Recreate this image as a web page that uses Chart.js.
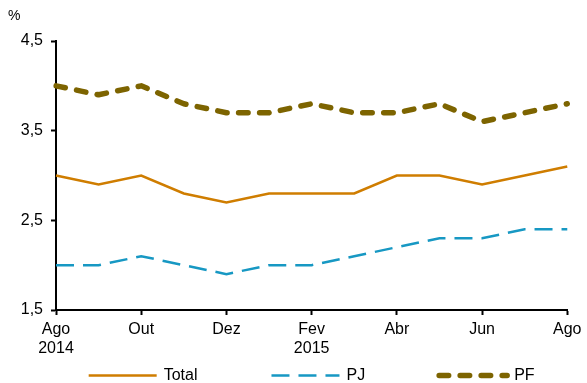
<!DOCTYPE html>
<html lang="pt-BR">
<head>
<meta charset="utf-8">
<title>Inadimplência</title>
<script src="https://cdn.jsdelivr.net/npm/chart.js@4/dist/chart.umd.min.js"></script>
<style>
  html, body { margin: 0; padding: 0; background: #fff; }
  #wrap { width: 587px; height: 383px; }
</style>
</head>
<body>
<div id="wrap"><canvas id="chart" width="587" height="383"></canvas></div>
<script>
// Months, Aug 2014 to Aug 2015
const months = ['ago/2014', 'set/2014', 'out/2014', 'nov/2014', 'dez/2014', 'jan/2015', 'fev/2015',
                'mar/2015', 'abr/2015', 'mai/2015', 'jun/2015', 'jul/2015', 'ago/2015'];

// Series, in %
const total = [3.0, 2.9, 3.0, 2.8, 2.7, 2.8, 2.8, 2.8, 3.0, 3.0, 2.9, 3.0, 3.1];
const pj    = [2.0, 2.0, 2.1, 2.0, 1.9, 2.0, 2.0, 2.1, 2.2, 2.3, 2.3, 2.4, 2.4];
const pf    = [4.0, 3.9, 4.0, 3.8, 3.7, 3.7, 3.8, 3.7, 3.7, 3.8, 3.6, 3.7, 3.8];

// Axis ticks
const xTickPositions = [0, 2, 4, 6, 8, 10, 12];
const xTickLabels = [['Ago', '2014'], 'Out', 'Dez', ['Fev', '2015'], 'Abr', 'Jun', 'Ago'];
const yTicks = [1.5, 2.5, 3.5, 4.5];

const FONT = "'Liberation Sans', Arial, Helvetica, sans-serif";

// Horizontal legend with line samples, centred under the plot area
const lineLegend = {
  id: 'lineLegend',
  afterDraw(chart, args, o) {
    const { ctx, chartArea: a } = chart;
    const sets = chart.data.datasets;
    ctx.save();
    ctx.font = o.fontSize + 'px ' + FONT;
    const widths = sets.map(ds => o.lineLength + o.textGap + ctx.measureText(ds.label).width);
    const rowWidth = widths.reduce((s, w) => s + w, 0) + o.itemGap * (sets.length - 1);
    let x = (a.left + a.right) / 2 - rowWidth / 2;
    const y = chart.height - o.bottomOffset;
    sets.forEach((ds, i) => {
      ctx.beginPath();
      ctx.strokeStyle = ds.borderColor;
      ctx.lineWidth = ds.borderWidth;
      ctx.lineCap = ds.borderCapStyle || 'butt';
      ctx.setLineDash(ds.borderDash || []);
      ctx.moveTo(x, y);
      ctx.lineTo(x + o.lineLength, y);
      ctx.stroke();
      ctx.setLineDash([]);
      ctx.fillStyle = '#000';
      ctx.textAlign = 'left';
      ctx.textBaseline = 'middle';
      ctx.fillText(ds.label, x + o.lineLength + o.textGap, y);
      x += widths[i] + o.itemGap;
    });
    ctx.restore();
  }
};

new Chart(document.getElementById('chart'), {
  type: 'line',
  data: {
    labels: months,
    datasets: [
      {
        label: 'Total',
        data: total,
        borderColor: '#CF7D00',
        borderWidth: 2.5,
        pointRadius: 0,
        tension: 0
      },
      {
        label: 'PJ',
        data: pj,
        borderColor: '#1798C3',
        borderWidth: 2.5,
        borderDash: [18, 9],
        pointRadius: 0,
        tension: 0
      },
      {
        label: 'PF',
        data: pf,
        borderColor: '#7D6400',
        borderWidth: 5.5,
        borderDash: [9.5, 11.5],
        borderCapStyle: 'round',
        borderJoinStyle: 'round',
        pointRadius: 0,
        tension: 0
      }
    ]
  },
  options: {
    responsive: false,
    animation: false,
    devicePixelRatio: 1,
    layout: { padding: { left: 8, right: 0, top: 0, bottom: 27 } },
    plugins: {
      legend: { display: false },
      tooltip: { enabled: false },
      title: {
        display: true,
        text: '%',
        align: 'start',
        color: '#000',
        font: { family: FONT, size: 14, weight: 'normal', lineHeight: 1.2 },
        padding: { top: 7.5, bottom: 16.7 }
      },
      lineLegend: { fontSize: 16, lineLength: 68, textGap: 7, itemGap: 74, bottomOffset: 7.5 }
    },
    scales: {
      x: {
        type: 'category',
        offset: false,
        afterBuildTicks: s => { s.ticks = xTickPositions.map(v => ({ value: v })); },
        afterFit: s => { s.height = 46; },
        grid: { display: true, drawOnChartArea: false, drawTicks: true, tickLength: 5, tickWidth: 2, tickColor: '#000' },
        border: { display: true, color: '#000', width: 2 },
        ticks: {
          autoSkip: false,
          maxRotation: 0,
          minRotation: 0,
          padding: 5.5,
          color: '#000',
          font: { family: FONT, size: 16, lineHeight: 1.15 },
          callback: (v, i) => xTickLabels[i]
        }
      },
      y: {
        min: 1.5,
        max: 4.5,
        afterBuildTicks: s => { s.ticks = yTicks.map(v => ({ value: v })); },
        afterFit: s => { s.width = 48; },
        grid: { display: true, drawOnChartArea: false, drawTicks: true, tickLength: 5, tickWidth: 2, tickColor: '#000' },
        border: { display: true, color: '#000', width: 2 },
        ticks: {
          padding: 8,
          color: '#000',
          font: { family: FONT, size: 16 },
          callback: v => v.toFixed(1).replace('.', ',')
        }
      }
    }
  },
  plugins: [lineLegend]
});
</script>
</body>
</html>
